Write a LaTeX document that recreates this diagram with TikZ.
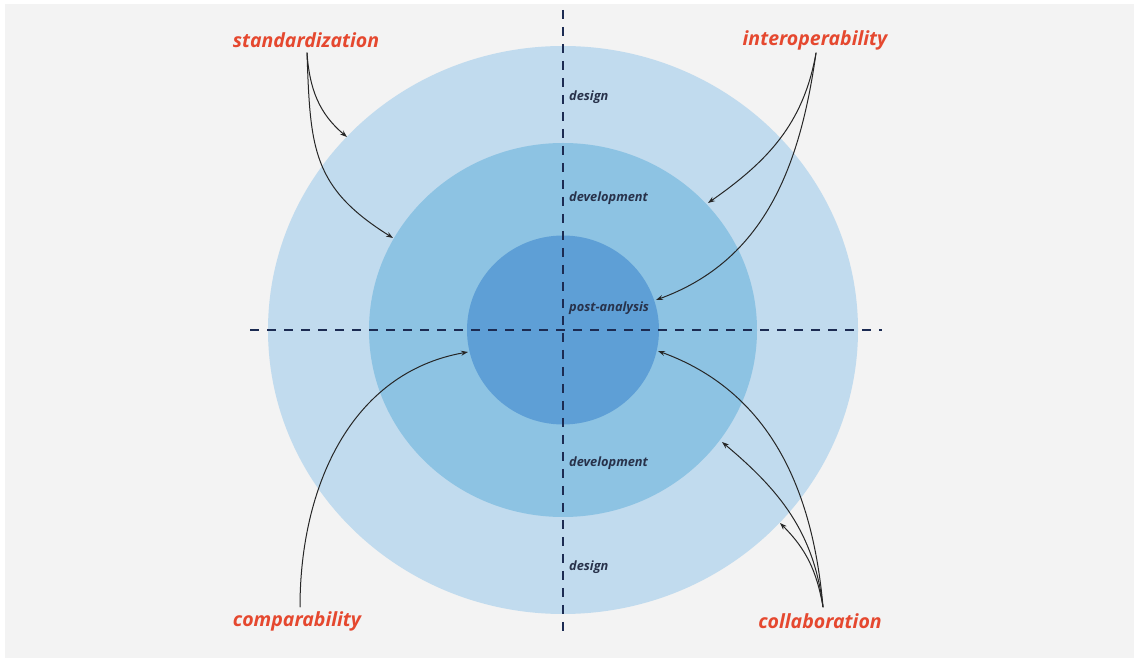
\documentclass[tikz,border=0pt]{standalone}
\usepackage{fontspec}
\usetikzlibrary{arrows.meta}
\setmainfont{Open Sans}
\definecolor{bgray}{RGB}{243,243,243}
\definecolor{ringout}{RGB}{193,219,238}
\definecolor{ringmid}{RGB}{141,195,227}
\definecolor{ringin}{RGB}{94,159,214}
\definecolor{keyred}{RGB}{229,72,47}
\definecolor{navy}{RGB}{28,43,82}
\definecolor{phasetxt}{RGB}{40,50,75}
\begin{document}
\begin{tikzpicture}[x=1pt,y=1pt,line join=round,line cap=round,>={Stealth[length=7pt,width=5pt]}]
				\tikzset{keyword/.style={text=keyred,font=\fontsize{19.5}{23}\selectfont\bfseries\itshape,inner sep=0pt},
					phase/.style={text=phasetxt,font=\fontsize{12.8}{15}\selectfont\bfseries\itshape,anchor=west,inner sep=0pt},
					axis/.style={navy,line width=2.2pt,line cap=butt,dash pattern=on 9pt off 8pt},
					link/.style={->,black!85,line width=1pt}}
				\useasboundingbox (0,0) rectangle (1134,658);
				\fill[white] (0,0) rectangle (1134,658);
				\fill[bgray] (5,0) rectangle (1134,654);
				% rings
				\coordinate (c) at (563,328);
				\fill[ringout] (c) ellipse [x radius=295, y radius=284];
				\fill[ringmid] (c) ellipse [x radius=194, y radius=187];
				\fill[ringin] (c) ellipse [x radius=96, y radius=94.5];
				% axes
				\coordinate (hl) at (250,328);
				\coordinate (hr) at (882,328);
				\coordinate (vt) at (563,648);
				\coordinate (vb) at (563,22);
				\draw[axis] (hl)--(hr);
				\draw[axis] (vt)--(vb);
				% phases
				\foreach \y/\t in {561/design,460/development,350/post-analysis,195/development,91/design}
				\node[phase] at (569,\y) {\t};
				% keywords
				\node[keyword] (std) at (306,618) {standardization};
				\node[keyword] (inter) at (815,618) {interoperability};
				\node[keyword] (comp) at (297,37) {comparability};
				\node[keyword] (coll) at (820,37) {collaboration};
				\coordinate (std0) at (307,605);
				\coordinate (inter0) at (816,605);
				\coordinate (comp0) at (300,51);
				\coordinate (coll0) at (823,51);
				% arrows
				\draw[link] (std0) to[out=-86,in=140] (347,521);
				\draw[link] (std0) to[out=-88,in=148,looseness=1.2] (393,420);
				\draw[link] (inter0) to[out=-100,in=35] (708,455);
				\draw[link] (inter0) to[out=-98,in=20] (656,358);
				\draw[link] (comp0) to[out=90,in=190] (468,306);
				\draw[link] (coll0) to[out=95,in=-20] (658,307);
				\draw[link] (coll0) to[out=97,in=-40] (722,216);
				\draw[link] (coll0) to[out=100,in=-45] (780,135);
			\end{tikzpicture}
\end{document}
